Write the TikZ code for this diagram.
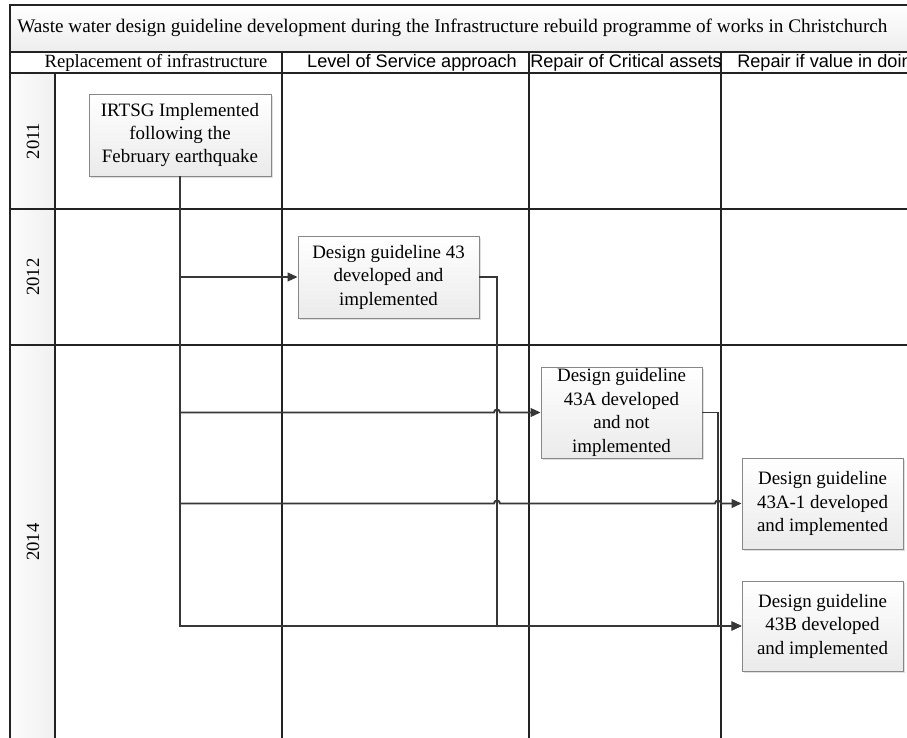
\documentclass[tikz,border=0pt]{standalone}
\usepackage{fontspec}
\setmainfont{Liberation Serif}
\setsansfont{Liberation Sans}
\usetikzlibrary{arrows.meta,shadows,calc}

\definecolor{gridline}{RGB}{35,35,35}
\definecolor{connline}{RGB}{55,55,55}
\definecolor{boxedge}{RGB}{135,135,135}

\tikzset{
  stepbox/.style={draw=boxedge, line width=0.6pt, top color=white, bottom color=gray!16,
    drop shadow={shadow xshift=1.5pt, shadow yshift=-1.5pt, fill=gray!40, opacity=0.6},
    align=center, inner sep=0pt, font=\fontsize{14.2}{17.6}\selectfont},
  conn/.style={draw=connline, line width=1.4pt},
  tip/.style={-{Triangle[length=7.5pt,width=6.5pt]}},
  divider/.style={draw=gridline, line width=1.5pt},
  rowline/.style={draw=gridline, line width=1pt},
  serif text/.style={font=\fontsize{14}{17}\selectfont},
  sans text/.style={font=\sffamily\fontsize{13.6}{16}\selectfont},
}

\begin{document}
\begin{tikzpicture}[x=0.75pt,y=0.75pt,yscale=-1,xscale=1]
\useasboundingbox (0,0) rectangle (907,738);
\clip (0,0) rectangle (907,738);

%Shape: Title bar
\draw[rowline, top color=white, bottom color=gray!14] (10,5) rectangle (915,52);
% Text Node
\node[font=\fontsize{14.4}{17}\selectfont, anchor=west, inner xsep=0pt] (title) at (17,28) {Waste water design guideline development during the Infrastructure rebuild programme of works in Christchurch};

%Shape: Year column
\fill[left color=gray!2, right color=gray!12] (10,73) rectangle (55,745);
\draw[rowline] (55,73) -- (55,745);

%Shape: Rows
\draw[rowline] (10,209) -- (915,209);
\draw[rowline] (10,345) -- (915,345);

%Shape: Header row and columns
\draw[divider] (10,52) -- (915,52);
\draw[divider] (10,73) -- (721,73);
\draw[rowline] (721,73) -- (915,73);
\foreach \x in {10,282,529,721}
  \draw[divider] (\x,52) -- (\x,745);

% Text Node
\node[serif text] (hdrepl) at (156,63) {Replacement of infrastructure};
\node[sans text] (hdlos) at (412,63) {Level of Service approach};
\node[sans text] (hdcrit) at (626,63) {Repair of Critical assets};
\node[sans text, anchor=west, inner xsep=0pt] (hdvalue) at (737,63) {Repair if value in doing};

% Text Node
\node[serif text, rotate=90] (y2011) at (33,141) {2011};
\node[serif text, rotate=90] (y2012) at (33,277) {2012};
\node[serif text, rotate=90] (y2014) at (33,542) {2014};

%Shape: Steps
\node[stepbox, minimum width=136.5pt, minimum height=61.5pt] (irtsg) at (180,135) {IRTSG Implemented\\following the\\February earthquake};
\node[stepbox, minimum width=135.75pt, minimum height=61.5pt] (dg43) at (388.5,277) {Design guideline 43\\developed and\\implemented};
\node[stepbox, minimum width=120.75pt, minimum height=68.25pt] (dg43a) at (621.5,412.5) {Design guideline\\43A developed\\and not\\implemented};
\node[stepbox, minimum width=120.75pt, minimum height=68.25pt] (dg43a1) at (822.5,503.5) {Design guideline\\43A-1 developed\\and implemented};
\node[stepbox, minimum width=120.75pt, minimum height=67.5pt] (dg43b) at (822.5,626) {Design guideline\\43B developed\\and implemented};

%Straight Lines
\coordinate (drop43) at (497,0);
\coordinate (dropa) at (718,0);
\draw[conn, tip] (irtsg.south) -- (irtsg.south |- dg43b.west) -- (dg43b.west);
\draw[conn, tip] (irtsg.south |- dg43.west) -- (dg43.west);
\draw[conn, tip] (irtsg.south |- dg43a.west) -- ($(drop43 |- dg43a.west)+(-3,0)$)
  arc[start angle=180, end angle=360, radius=2.25pt] -- (dg43a.west);
\draw[conn, tip] (irtsg.south |- dg43a1.west) -- ($(drop43 |- dg43a1.west)+(-3,0)$)
  arc[start angle=180, end angle=360, radius=2.25pt] -- ($(dropa |- dg43a1.west)+(-3,0)$)
  arc[start angle=180, end angle=360, radius=2.25pt] -- (dg43a1.west);
\draw[conn, tip] (dg43.east) -- (drop43 |- dg43.east) -- (drop43 |- dg43b.west) -- (dg43b.west);
\draw[conn, tip] (dg43a.east) -- (dropa |- dg43a.east) -- (dropa |- dg43b.west) -- (dg43b.west);

\end{tikzpicture}
\end{document}
